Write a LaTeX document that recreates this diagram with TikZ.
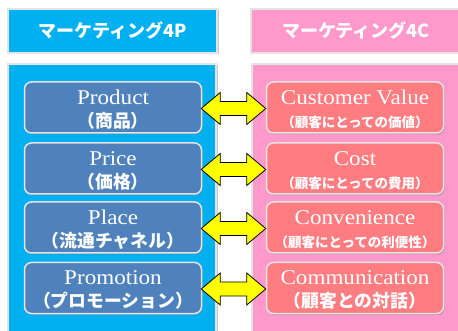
\documentclass[tikz,border=0pt]{standalone}
\usepackage{fontspec}
\setmainfont{Liberation Serif}
\newfontfamily\enf{Liberation Serif}[FakeStretch=1.1]
\newfontfamily\jp{Noto Sans CJK JP}
\usetikzlibrary{calc,shadows}
\definecolor{panelblue}{HTML}{00B0F0}
\definecolor{panelpink}{HTML}{FF99CC}
\definecolor{boxblue}{HTML}{4F81BD}
\definecolor{boxpink}{HTML}{FF7C80}
\definecolor{rimgray}{HTML}{E4E4E4}
\definecolor{arrowyellow}{HTML}{FFFF00}
\tikzset{
  panel/.style={draw=rimgray, line width=1.5pt, drop shadow={shadow xshift=1.5pt, shadow yshift=-1.5pt, fill=black!35, opacity=.6}},
  header/.style={panel, minimum height=44pt, text=white, font=\jp\bfseries\fontsize{18}{20}\selectfont},
  itembox/.style={draw=rimgray, line width=1.5pt, rounded corners=7pt, minimum width=177pt, minimum height=51pt, text=white, align=center, inner sep=0pt, font=\fontsize{18}{23}\selectfont, drop shadow={shadow xshift=1.2pt, shadow yshift=-1.5pt, fill=black!50, opacity=.5}},
  pbox/.style={itembox, fill=boxblue},
  cbox/.style={itembox, fill=boxpink},
  dblarrow/.style={draw=black, line width=0.8pt, fill=arrowyellow, line join=miter},
}
\newcommand{\enl}[1]{{\enf\fontsize{21}{23}\selectfont\rule{0pt}{18.5pt}#1}}
\newcommand{\jpl}[1]{{\jp\bfseries\fontsize{17.8}{23}\selectfont #1}}
\newcommand{\jps}[1]{{\jp\bfseries\fontsize{13.5}{23}\selectfont #1}}
\begin{document}
\begin{tikzpicture}[x=1pt,y=-1pt]
\useasboundingbox (0,0) rectangle (458,331);
% panels
\draw[panel, fill=panelblue] (8,64) rectangle (216,340);
\draw[panel, fill=panelpink] (252,64) rectangle (470,340);
\node[header, fill=panelblue, minimum width=209pt] (h4p) at (112.5,31) {マーケティング4P};
\node[header, fill=panelpink, minimum width=210pt] (h4c) at (356,31) {マーケティング4C};
% left boxes
\node[pbox] (p1) at (113,107.5) {\enl{Product}\\\jpl{（商品）}};
\node[pbox] (p2) at (113,168.5) {\enl{Price}\\\jpl{（価格）}};
\node[pbox] (p3) at (113,227.5) {\enl{Place}\\\jpl{（流通チャネル）}};
\node[pbox] (p4) at (113,288) {\enl{Promotion}\\\jpl{（プロモーション）}};
% right boxes
\node[cbox] (c1) at (355,107.5) {\enl{Customer Value}\\\jps{（顧客にとっての価値）}};
\node[cbox] (c2) at (355,168.5) {\enl{Cost}\\\jps{（顧客にとっての費用）}};
\node[cbox] (c3) at (355,227.5) {\enl{Convenience}\\\jps{（顧客にとっての利便性）}};
\node[cbox] (c4) at (355,288) {\enl{Communication}\\\jpl{（顧客との対話）}};
% arrows
\foreach \a/\b in {p1/c1,p2/c2,p3/c3,p4/c4}{
  \draw[dblarrow] ($(\a.east)+(-1,1)$) -- ++(19,-16) -- ++(0,9)
    -- ($(\b.west)+(-19,-6)$) -- ++(0,-9) -- ($(\b.west)+(0,1)$)
    -- ++(-19,16) -- ++(0,-9) -- ($(\a.east)+(18,8)$) -- ++(0,9) -- cycle;
}
\end{tikzpicture}
\end{document}
